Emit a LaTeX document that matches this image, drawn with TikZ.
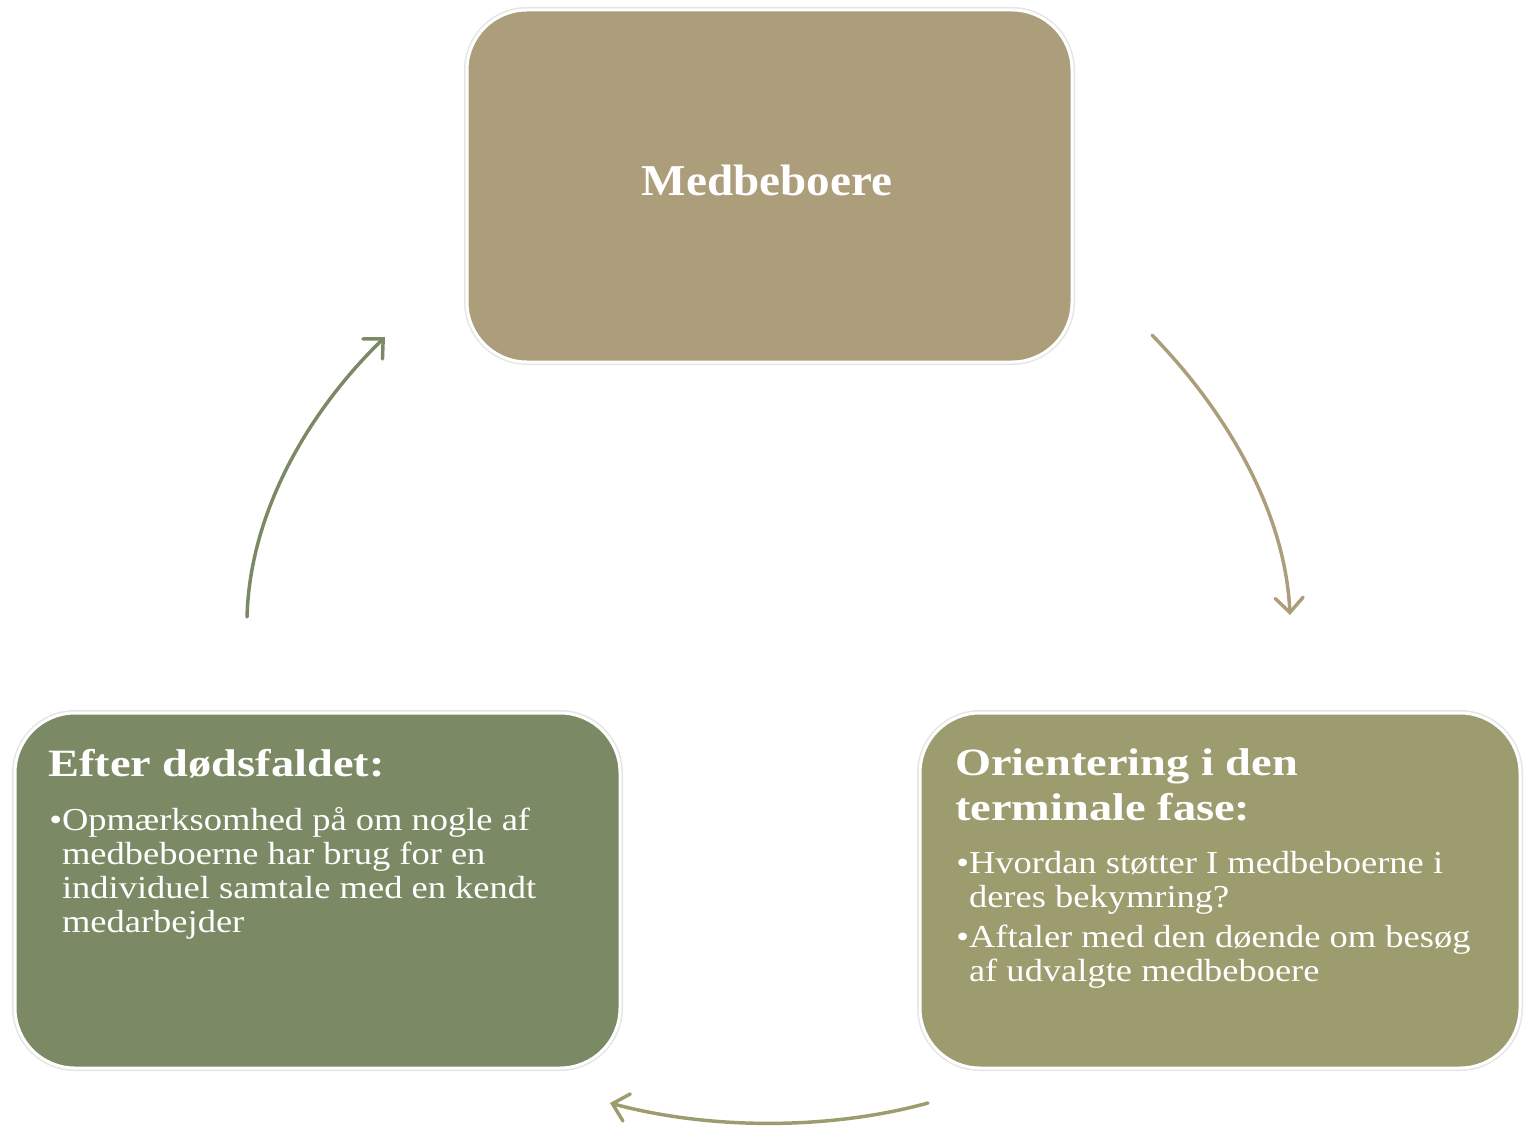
\documentclass[tikz,border=0pt]{standalone}
\usepackage{fontspec}
\setmainfont{Liberation Serif}
\newfontfamily\hdrfont[FakeStretch=1.2]{Liberation Serif}
\newfontfamily\txtfont[FakeStretch=1.14]{Liberation Serif}
\newfontfamily\topfont[FakeStretch=1.07]{Liberation Serif}
\usetikzlibrary{arrows.meta}
\definecolor{topc}{HTML}{AD9E7B}
\definecolor{leftc}{HTML}{7B8964}
\definecolor{rightc}{HTML}{9C9C6E}
\definecolor{arrtop}{HTML}{AD9E7B}
\definecolor{arrright}{HTML}{9C9C6E}
\definecolor{arrleft}{HTML}{7B8964}
\begin{document}
\begin{tikzpicture}[x=0.75pt,y=0.75pt,
  box/.style={rectangle, rounded corners=45pt, draw=white, line width=2.25pt,
    preaction={draw=black!10, line width=4.5pt}, inner sep=0pt},
  hdr/.style={anchor=base west, inner sep=0pt, text=white,
    font=\hdrfont\bfseries\fontsize{29}{33.75}\selectfont},
  txt/.style={anchor=base west, inner sep=0pt, text=white,
    font=\txtfont\fontsize{24}{25.5}\selectfont},
  arr/.style={line width=2.6pt, line cap=round,
    -{Straight Barb[length=11pt,width=21pt,line cap=round]}}]
\useasboundingbox (0,0) rectangle (1524,-1131);
% boxes
\node[box, fill=topc, minimum width=453.75pt, minimum height=264pt] (top) at (769.5,-186) {};
\node[box, fill=leftc, minimum width=453.75pt, minimum height=266.25pt] (left) at (317.5,-890.5) {};
\node[box, fill=rightc, minimum width=450pt, minimum height=266.25pt] (right) at (1220,-890.5) {};
% texts
\node[anchor=base, inner sep=0pt, text=white, font=\topfont\bfseries\fontsize{33}{40}\selectfont] (toptxt) at (767,-195) {Medbeboere};
\node[hdr] (lh) at (48,-776) {Efter dødsfaldet:};
\node[txt] (lb) at (49,-830) {\begin{tabular}[t]{@{}l@{}l@{}}•&Opmærksomhed på om nogle af\\ &medbeboerne har brug for en\\ &individuel samtale med en kendt\\ &medarbejder\end{tabular}};
\node[hdr] (rh) at (955,-775) {\begin{tabular}[t]{@{}l@{}}Orientering i den\\terminale fase:\end{tabular}};
\node[txt] (rb) at (956,-873) {\begin{tabular}[t]{@{}l@{}l@{}}•&Hvordan støtter I medbeboerne i\\ &deres bekymring?\\[4.5pt] •&Aftaler med den døende om besøg\\ &af udvalgte medbeboere\end{tabular}};
% arrows
\coordinate (r1) at (1152,-335);
\coordinate (r2) at (1290,-615);
\coordinate (b1) at (928,-1103);
\coordinate (b2) at (610,-1103);
\coordinate (l1) at (247,-617);
\coordinate (l2) at (385,-337);
\draw[arr, draw=arrtop] (r1) .. controls (1225,-410) and (1285,-510) .. (r2);
\draw[arr, draw=arrright] (b1) .. controls (830,-1130) and (710,-1130) .. (b2);
\draw[arr, draw=arrleft] (l1) .. controls (250,-510) and (310,-410) .. (l2);
\end{tikzpicture}
\end{document}
